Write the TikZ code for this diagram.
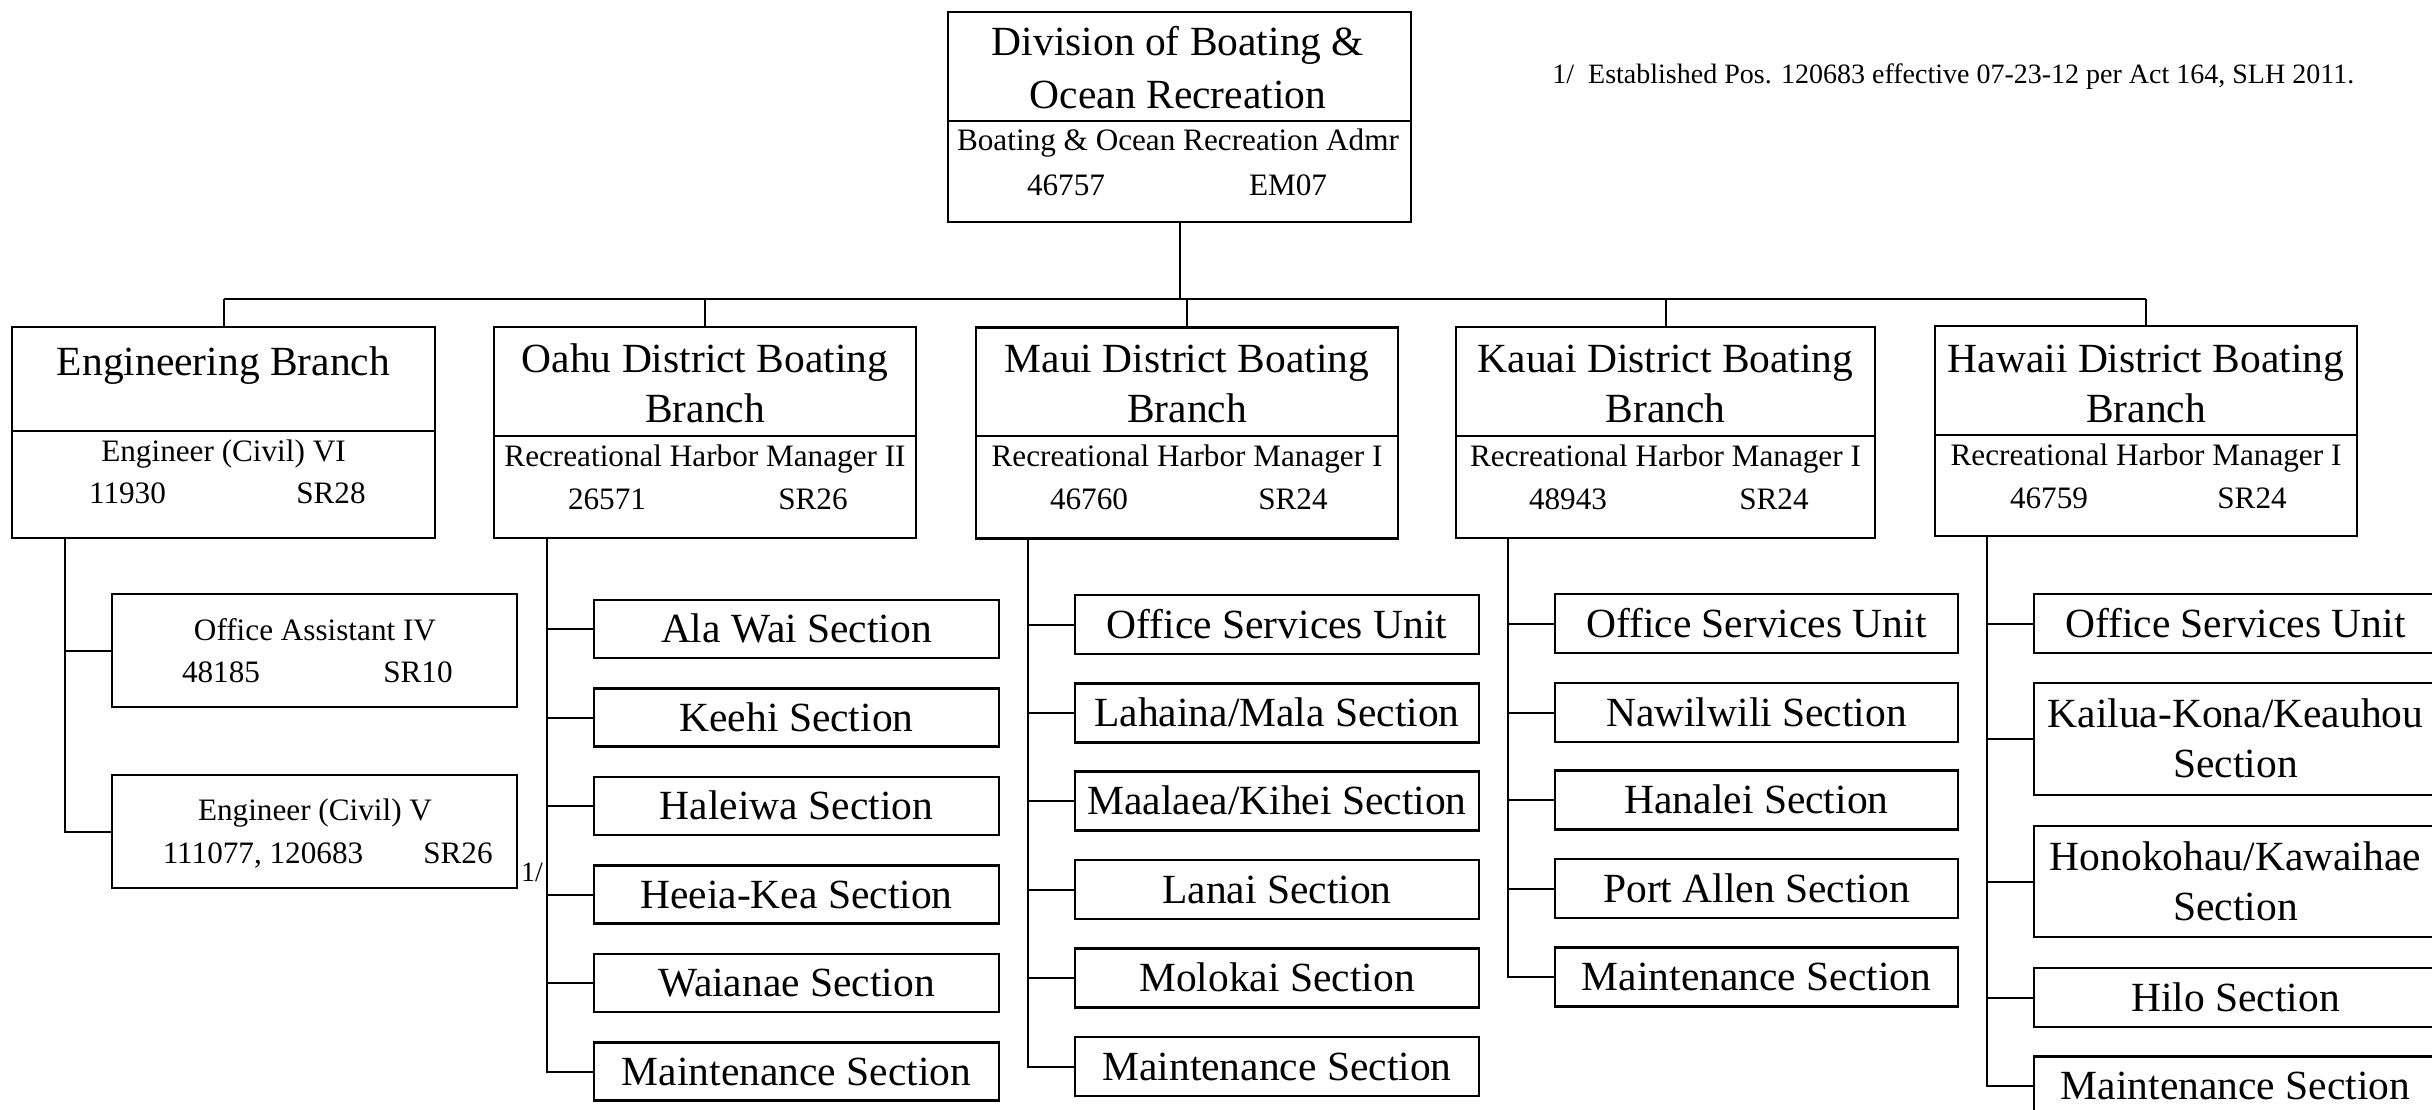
\documentclass[tikz,border=0pt]{standalone}
\usepackage{fontspec}
\setmainfont{Liberation Serif}
\newcommand\mysec[6]{% name, cx, cy, width(pt), height(pt), text
  \node[box, minimum width=#4, minimum height=#5] (#1) at (#2,#3) {};
  \node[hdr] (#1t) at ([yshift=-6.85pt]#1.center) {#6};}
\newcommand\mysectwo[7]{% name, cx, cy, width, height, line1, line2
  \node[box, minimum width=#4, minimum height=#5] (#1) at (#2,#3) {};
  \node[hdr] (#1ta) at ([yshift=5.65pt]#1.center) {#6};
  \node[hdr] (#1tb) at ([yshift=-19.35pt]#1.center) {#7};}
\begin{document}
\begin{tikzpicture}[x=0.5pt,y=-0.5pt,
  box/.style={draw, line width=1.3pt, inner sep=0pt, outer sep=0pt},
  divline/.style={line width=1.1pt},
  conn/.style={line width=1pt},
  hdr/.style={font=\fontsize{20.75}{25}\selectfont, inner sep=0pt, anchor=base},
  sub/.style={font=\fontsize{15.6}{18}\selectfont, inner sep=0pt, anchor=base},
  note/.style={font=\fontsize{14}{16}\selectfont, inner sep=0pt, anchor=base}]
\useasboundingbox (0,0) rectangle (2432,1109);

% ---------- top box
\node[box, minimum width=231.5pt, minimum height=105pt] (top) at (1179.5,117) {};
\draw[divline] (top.west |- 0,121) -- (top.east |- 0,121);
\node[hdr] (topa) at (1178,55) {Division of Boating \&};
\node[hdr] (topb) at (1178,108) {Ocean Recreation};
\node[sub] (topc) at (1178,150) {Boating \& Ocean Recreation Admr};
\node[sub] (topd) at (1066,195) {46757};
\node[sub] (tope) at (1288,195) {EM07};

\node[note, anchor=base west] (fn) at (1552,83) {1/\enspace Established Pos. 120683 effective 07-23-12 per Act 164, SLH 2011.};

% ---------- branch boxes
\node[box, minimum width=211.5pt, minimum height=105.5pt] (eng) at (223.5,432.5) {};
\node[box, minimum width=211pt, minimum height=105.5pt] (oahu) at (705,432.5) {};
\node[box, minimum width=211pt, minimum height=105.5pt] (maui) at (1187,433) {};
\node[box, minimum width=209.5pt, minimum height=105.5pt] (kauai) at (1665.5,432.5) {};
\node[box, minimum width=211pt, minimum height=105pt] (hawaii) at (2146,431) {};

\draw[divline] (eng.west |- 0,431) -- (eng.east |- 0,431);
\draw[divline] (oahu.west |- 0,436) -- (oahu.east |- 0,436);
\draw[divline] (maui.west |- 0,436) -- (maui.east |- 0,436);
\draw[divline] (kauai.west |- 0,436) -- (kauai.east |- 0,436);
\draw[divline] (hawaii.west |- 0,435) -- (hawaii.east |- 0,435);

\node[hdr] (enga) at (223.5,375) {Engineering Branch};
\node[sub] (engc) at (223.5,461) {Engineer (Civil) VI};
\node[sub] (engd) at (127.5,503) {11930};
\node[sub] (enge) at (331,503) {SR28};

\node[hdr] (oahua) at (705,372) {Oahu District Boating};
\node[hdr] (oahub) at (705,422) {Branch};
\node[sub] (oahuc) at (705,466) {Recreational Harbor Manager II};
\node[sub] (oahud) at (607,509) {26571};
\node[sub] (oahue) at (813,509) {SR26};

\node[hdr] (mauia) at (1187,372) {Maui District Boating};
\node[hdr] (mauib) at (1187,422) {Branch};
\node[sub] (mauic) at (1187,466) {Recreational Harbor Manager I};
\node[sub] (mauid) at (1089,509) {46760};
\node[sub] (mauie) at (1293,509) {SR24};

\node[hdr] (kauaia) at (1665.5,372) {Kauai District Boating};
\node[hdr] (kauaib) at (1665.5,422) {Branch};
\node[sub] (kauaic) at (1665.5,466) {Recreational Harbor Manager I};
\node[sub] (kauaid) at (1568,509) {48943};
\node[sub] (kauaie) at (1774,509) {SR24};

\node[hdr] (hawaiia) at (2146,372) {Hawaii District Boating};
\node[hdr] (hawaiib) at (2146,422) {Branch};
\node[sub] (hawaiic) at (2146,465) {Recreational Harbor Manager I};
\node[sub] (hawaiid) at (2049,508) {46759};
\node[sub] (hawaiie) at (2252,508) {SR24};

% ---------- bus
\coordinate (busL) at (224,299);
\coordinate (busR) at (2146,299);
\draw[conn] (top.south) -- (top.south |- busL);
\draw[conn] (busL) -- (busR);
\foreach \b in {eng,oahu,maui,kauai,hawaii}{\draw[conn] (\b.north) -- (\b.north |- busL);}

% ---------- engineering subordinates
\node[box, minimum width=202.5pt, minimum height=56.5pt] (oa) at (314.5,650.5) {};
\node[sub] (oaa) at (315,640) {Office Assistant IV};
\node[sub] (oab) at (221,682) {48185};
\node[sub] (oac) at (418,682) {SR10};
\node[box, minimum width=202.5pt, minimum height=56.5pt] (ev) at (314.5,831.5) {};
\node[sub] (eva) at (315,820) {Engineer (Civil) V};
\node[sub] (evb) at (263,863) {111077, 120683};
\node[sub] (evc) at (458,863) {SR26};
\coordinate (eb) at (65,538);
\draw[conn] (eb) |- (ev.west);
\draw[conn] (eb |- oa.west) -- (oa.west);
\node[note] (fn1) at (532,881) {1/};

% ---------- Oahu sections
\mysec{o1}{796.5}{629}{202.5pt}{29pt}{Ala Wai Section}
\mysec{o2}{796.5}{717.5}{202.5pt}{29pt}{Keehi Section}
\mysec{o3}{796.5}{806}{202.5pt}{29pt}{Haleiwa Section}
\mysec{o4}{796.5}{894.5}{202.5pt}{29pt}{Heeia-Kea Section}
\mysec{o5}{796.5}{983}{202.5pt}{29pt}{Waianae Section}
\mysec{o6}{796.5}{1071.5}{202.5pt}{29pt}{Maintenance Section}
\coordinate (ob) at (547,538);
\draw[conn] (ob) |- (o6.west);
\foreach \s in {o1,o2,o3,o4,o5}{\draw[conn] (ob |- \s.west) -- (\s.west);}

% ---------- Maui sections
\mysec{m1}{1277}{624.5}{202pt}{29.5pt}{Office Services Unit}
\mysec{m2}{1277}{713}{202pt}{29.5pt}{Lahaina/Mala Section}
\mysec{m3}{1277}{801}{202pt}{29.5pt}{Maalaea/Kihei Section}
\mysec{m4}{1277}{889.5}{202pt}{29.5pt}{Lanai Section}
\mysec{m5}{1277}{978}{202pt}{29.5pt}{Molokai Section}
\mysec{m6}{1277}{1066.5}{202pt}{29.5pt}{Maintenance Section}
\coordinate (mb) at (1028,538);
\draw[conn] (mb) |- (m6.west);
\foreach \s in {m1,m2,m3,m4,m5}{\draw[conn] (mb |- \s.west) -- (\s.west);}

% ---------- Kauai sections
\mysec{k1}{1756.5}{623.5}{201.5pt}{29.5pt}{Office Services Unit}
\mysec{k2}{1756.5}{712.5}{201.5pt}{29.5pt}{Nawilwili Section}
\mysec{k3}{1756.5}{800}{201.5pt}{29.5pt}{Hanalei Section}
\mysec{k4}{1756.5}{888.5}{201.5pt}{29.5pt}{Port Allen Section}
\mysec{k5}{1756.5}{977}{201.5pt}{29.5pt}{Maintenance Section}
\coordinate (kb) at (1508,538);
\draw[conn] (kb) |- (k5.west);
\foreach \s in {k1,k2,k3,k4}{\draw[conn] (kb |- \s.west) -- (\s.west);}

% ---------- Hawaii sections
\mysec{h1}{2235.5}{623.5}{201.5pt}{29.5pt}{Office Services Unit}
\mysectwo{h2}{2235.5}{739}{201.5pt}{56pt}{Kailua-Kona/Keauhou}{Section}
\mysectwo{h3}{2235.5}{881.5}{201.5pt}{55.5pt}{Honokohau/Kawaihae}{Section}
\mysec{h4}{2235.5}{997.5}{201.5pt}{29.5pt}{Hilo Section}
\mysec{h5}{2235.5}{1086}{201.5pt}{29.5pt}{Maintenance Section}
\coordinate (hb) at (1987,536);
\draw[conn] (hb) |- (h5.west);
\foreach \s in {h1,h2,h3,h4}{\draw[conn] (hb |- \s.west) -- (\s.west);}
\end{tikzpicture}
\end{document}
